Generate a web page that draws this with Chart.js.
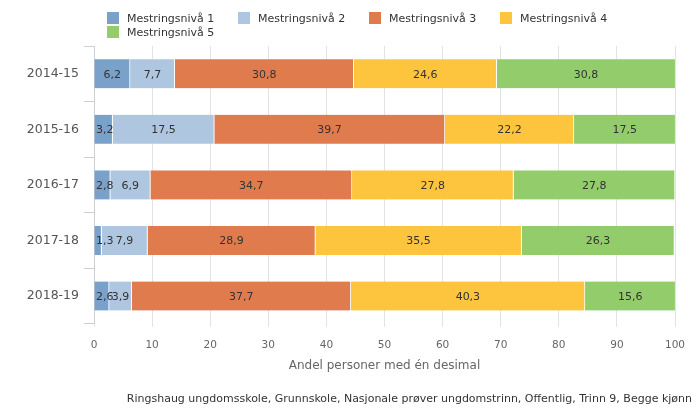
<!DOCTYPE html>
<html>
<head>
<meta charset="utf-8">
<script src="https://cdn.jsdelivr.net/npm/chart.js@4.4.1/dist/chart.umd.min.js"></script>
<style>
  body { margin: 0; background: #fff; }
  #wrap { position: relative; width: 700px; height: 417px; }
  #legend {
    position: absolute; left: 107px; top: 11px; width: 540px;
    display: flex; flex-wrap: wrap;
    font-family: "DejaVu Sans", sans-serif; font-size: 11px; color: #333;
  }
  .item { width: 131px; height: 14px; display: flex; align-items: center; }
  .box { width: 12px; height: 12px; margin-right: 8px; }
</style>
</head>
<body>
<div id="wrap">
  <canvas id="myChart"></canvas>
  <div id="legend"></div>
</div>
<script>
// school years on the y axis
const years = ['2014-15', '2015-16', '2016-17', '2017-18', '2018-19'];

// share of pupils per mastery level (percent)
const level1 = [6.2, 3.2, 2.8, 1.3, 2.6];
const level2 = [7.7, 17.5, 6.9, 7.9, 3.9];
const level3 = [30.8, 39.7, 34.7, 28.9, 37.7];
const level4 = [24.6, 22.2, 27.8, 35.5, 40.3];
const level5 = [30.8, 17.5, 27.8, 26.3, 15.6];

const levelNames = ['Mestringsnivå 1', 'Mestringsnivå 2', 'Mestringsnivå 3', 'Mestringsnivå 4', 'Mestringsnivå 5'];
const levelColors = ['#7aa1c9', '#aec6df', '#e07b4e', '#fdc43d', '#93cc6a'];

const xTicks = [0, 10, 20, 30, 40, 50, 60, 70, 80, 90, 100];

const font = 'DejaVu Sans';

// draws the value in the middle of every bar segment
const valueLabels = {
  id: 'valueLabels',
  afterLayout(chart) {
    // caption sits further right than the plot area
    const t = chart.titleBlock;
    if (t) {
      t.left += 17;
      t.right += 17;
    }
  },
  afterDatasetsDraw(chart) {
    const ctx = chart.ctx;
    const area = chart.chartArea;
    ctx.save();
    ctx.font = '11px "' + font + '"';
    ctx.fillStyle = '#333';
    ctx.textBaseline = 'middle';
    ctx.textAlign = 'left';
    chart.data.datasets.forEach((ds, i) => {
      const meta = chart.getDatasetMeta(i);
      meta.data.forEach((bar, j) => {
        const text = ds.data[j].toFixed(1).replace('.', ',');
        const w = ctx.measureText(text).width;
        let x = (bar.x + bar.base) / 2 - w / 2;
        if (x < area.left + 2) x = area.left + 2;
        ctx.fillText(text, x, bar.y + 1);
      });
    });
    ctx.restore();
  }
};

const datasets = [level1, level2, level3, level4, level5].map((values, i) => ({
  label: levelNames[i],
  data: values,
  backgroundColor: levelColors[i],
  borderColor: '#fff',
  borderWidth: { top: 0, bottom: 0, left: 0, right: 1 },
  borderSkipped: false,
  barThickness: 29
}));

const myChart = new Chart(document.getElementById('myChart'), {
  type: 'bar',
  data: { labels: years, datasets: datasets },
  options: {
    indexAxis: 'y',
    responsive: true,
    maintainAspectRatio: false,
    animation: false,
    layout: { padding: { top: 46, right: 25, bottom: 0, left: 0 } },
    plugins: {
      legend: { display: false },
      tooltip: { enabled: false },
      title: {
        display: true,
        position: 'bottom',
        align: 'end',
        text: 'Ringshaug ungdomsskole, Grunnskole, Nasjonale prøver ungdomstrinn, Offentlig, Trinn 9, Begge kjønn',
        color: '#333',
        font: { family: font, size: 11, weight: 'normal' },
        padding: { top: 7, bottom: 11 }
      }
    },
    scales: {
      x: {
        stacked: true,
        min: 0,
        max: 100,
        afterBuildTicks(scale) {
          scale.ticks = xTicks.map(v => ({ value: v }));
        },
        afterFit(scale) {
          scale.height = 62;
        },
        grid: { color: '#e3e3e3', tickLength: 3 },
        border: { display: false },
        ticks: {
          color: '#666',
          padding: 12,
          font: { family: font, size: 10.5 }
        },
        title: {
          display: true,
          text: 'Andel personer med én desimal',
          color: '#666',
          font: { family: font, size: 12 },
          padding: { top: 0, bottom: 13 }
        }
      },
      y: {
        stacked: true,
        afterFit(scale) {
          scale.width = 94;
        },
        grid: { drawOnChartArea: false, tickLength: 10, color: '#ccd0d6' },
        border: { display: true, color: '#ccd0d6' },
        ticks: {
          color: '#555',
          padding: 5,
          font: { family: font, size: 12.5 }
        }
      }
    }
  },
  plugins: [valueLabels]
});

// legend as html, laid out like the original
const legendBox = document.getElementById('legend');
myChart.data.datasets.forEach(ds => {
  const item = document.createElement('div');
  item.className = 'item';
  const box = document.createElement('span');
  box.className = 'box';
  box.style.background = ds.backgroundColor;
  const label = document.createElement('span');
  label.textContent = ds.label;
  item.appendChild(box);
  item.appendChild(label);
  legendBox.appendChild(item);
});
</script>
</body>
</html>
